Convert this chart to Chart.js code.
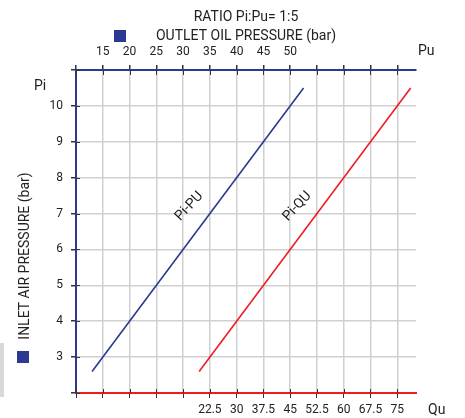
<!DOCTYPE html>
<html>
<head>
<meta charset="utf-8">
<script src="https://cdn.jsdelivr.net/npm/chart.js@4"></script>
<style>
  html, body { margin: 0; padding: 0; background: #fff; }
  #wrap { width: 465px; height: 418px; }
</style>
</head>
<body>
<div id="wrap"><canvas id="chart" width="465" height="418"></canvas></div>
<script>
// values
const piValues = [2.6, 10.5];          // inlet air pressure (bar)
const puValues = [13, 52.5];           // outlet oil pressure, Pi-PU line
const quValues = [19.5, 78.75];        // flow, Pi-QU line
const puTickLabels = [15, 20, 25, 30, 35, 40, 45, 50];
const quTickLabels = [22.5, 30, 37.5, 45, 52.5, 60, 67.5, 75];
const piTickLabels = [3, 4, 5, 6, 7, 8, 9, 10];

const BLUE = '#2b3990';
const RED = '#ee1c25';
const FONT = 'Roboto';

// decorations: titles, axis names, line labels, cross ticks
const extras = {
  id: 'extras',
  afterDraw(chart) {
    const c = chart.ctx;
    const x = chart.scales.x, x2 = chart.scales.x2, y = chart.scales.y;
    const a = chart.chartArea;
    c.save();
    c.fillStyle = '#222';
    c.textBaseline = 'middle';

    c.font = '14px ' + FONT;
    c.textAlign = 'center';
    c.fillText('RATIO Pi:Pu= 1:5', 246, 17);
    c.fillText('OUTLET OIL PRESSURE (bar)', 246, 36);
    c.fillStyle = BLUE;
    c.fillRect(114, 30, 12, 12);

    c.fillStyle = '#222';
    c.textAlign = 'left';
    c.fillText('Pu', 418, 51);
    c.fillText('Qu', 428, 410);
    c.fillText('Pi', 34, 86);

    c.save();
    c.translate(25, 256);
    c.rotate(-Math.PI / 2);
    c.textAlign = 'center';
    c.fillText('INLET AIR PRESSURE (bar)', 0, 0);
    c.restore();
    c.fillStyle = BLUE;
    c.fillRect(17, 351, 12, 12);
    c.fillStyle = '#d9d9d9';
    c.fillRect(0, 343, 4, 54);

    // line labels, left of each line
    c.fillStyle = '#222';
    c.font = '14px ' + FONT;
    const ang = 47 * Math.PI / 180;
    const py = y.getPixelForValue(7.2);
    c.save();
    c.translate(x.getPixelForValue(7.2 * 5) - 26, py);
    c.rotate(-ang);
    c.textAlign = 'center';
    c.fillText('Pi-PU', 0, 0);
    c.restore();
    c.save();
    c.translate(x2.getPixelForValue(7.2 * 7.5) - 25, py);
    c.rotate(-ang);
    c.textAlign = 'center';
    c.fillText('Pi-QU', 0, 0);
    c.restore();

    // inner half of the tick crosses
    c.strokeStyle = '#333';
    c.lineWidth = 1;
    c.beginPath();
    x.ticks.forEach(t => {
      const px = Math.round(x.getPixelForValue(t.value)) + 0.5;
      c.moveTo(px, a.top); c.lineTo(px, a.top + 5);
    });
    x2.ticks.forEach(t => {
      const px = Math.round(x2.getPixelForValue(t.value)) + 0.5;
      c.moveTo(px, a.bottom); c.lineTo(px, a.bottom - 4);
    });
    y.ticks.forEach(t => {
      const py2 = Math.round(y.getPixelForValue(t.value)) + 0.5;
      c.moveTo(a.left, py2); c.lineTo(a.left + 4, py2);
    });
    c.stroke();
    c.restore();
  }
};

new Chart(document.getElementById('chart'), {
  type: 'line',
  data: {
    datasets: [{
      label: 'Pi-PU',
      data: puValues.map((v, i) => ({ x: v, y: piValues[i] })),
      xAxisID: 'x',
      borderColor: BLUE,
      borderWidth: 1.6,
      pointRadius: 0
    }, {
      label: 'Pi-QU',
      data: quValues.map((v, i) => ({ x: v, y: piValues[i] })),
      xAxisID: 'x2',
      borderColor: RED,
      borderWidth: 1.6,
      pointRadius: 0
    }]
  },
  options: {
    responsive: false,
    animation: false,
    layout: { padding: { left: 40, top: 30, right: 49, bottom: 0 } },
    plugins: { legend: { display: false }, tooltip: { enabled: false } },
    scales: {
      x: {
        type: 'linear', position: 'top', min: 10, max: 73.5,
        afterFit(s) { s.height = 40; },
        border: { color: BLUE, width: 2 },
        grid: { color: '#d0d0d0', lineWidth: 1.5, tickLength: 5, tickColor: '#333' },
        ticks: {
          stepSize: 5, includeBounds: false, autoSkip: false, maxRotation: 0, padding: 6,
          color: '#222', font: { family: FONT, size: 12 },
          callback: v => puTickLabels.includes(v) ? String(v) : ''
        }
      },
      x2: {
        type: 'linear', position: 'bottom', min: -15, max: 80.25,
        afterFit(s) { s.height = 25; },
        border: { color: RED, width: 2 },
        grid: { drawOnChartArea: false, tickLength: 5, tickColor: '#333' },
        ticks: {
          stepSize: 7.5, includeBounds: false, autoSkip: false, maxRotation: 0, padding: 5,
          color: '#222', font: { family: FONT, size: 12 },
          callback: v => quTickLabels.includes(v) ? String(v) : ''
        }
      },
      y: {
        type: 'linear', position: 'left', min: 2, max: 11,
        afterFit(s) { s.width = 36; },
        border: { color: BLUE, width: 2 },
        grid: { color: '#d0d0d0', lineWidth: 1.5, tickLength: 5, tickColor: '#333' },
        ticks: {
          stepSize: 1, autoSkip: false, padding: 8,
          color: '#222', font: { family: FONT, size: 12 },
          callback: v => piTickLabels.includes(v) ? String(v) : ''
        }
      }
    }
  },
  plugins: [extras]
});
</script>
</body>
</html>
